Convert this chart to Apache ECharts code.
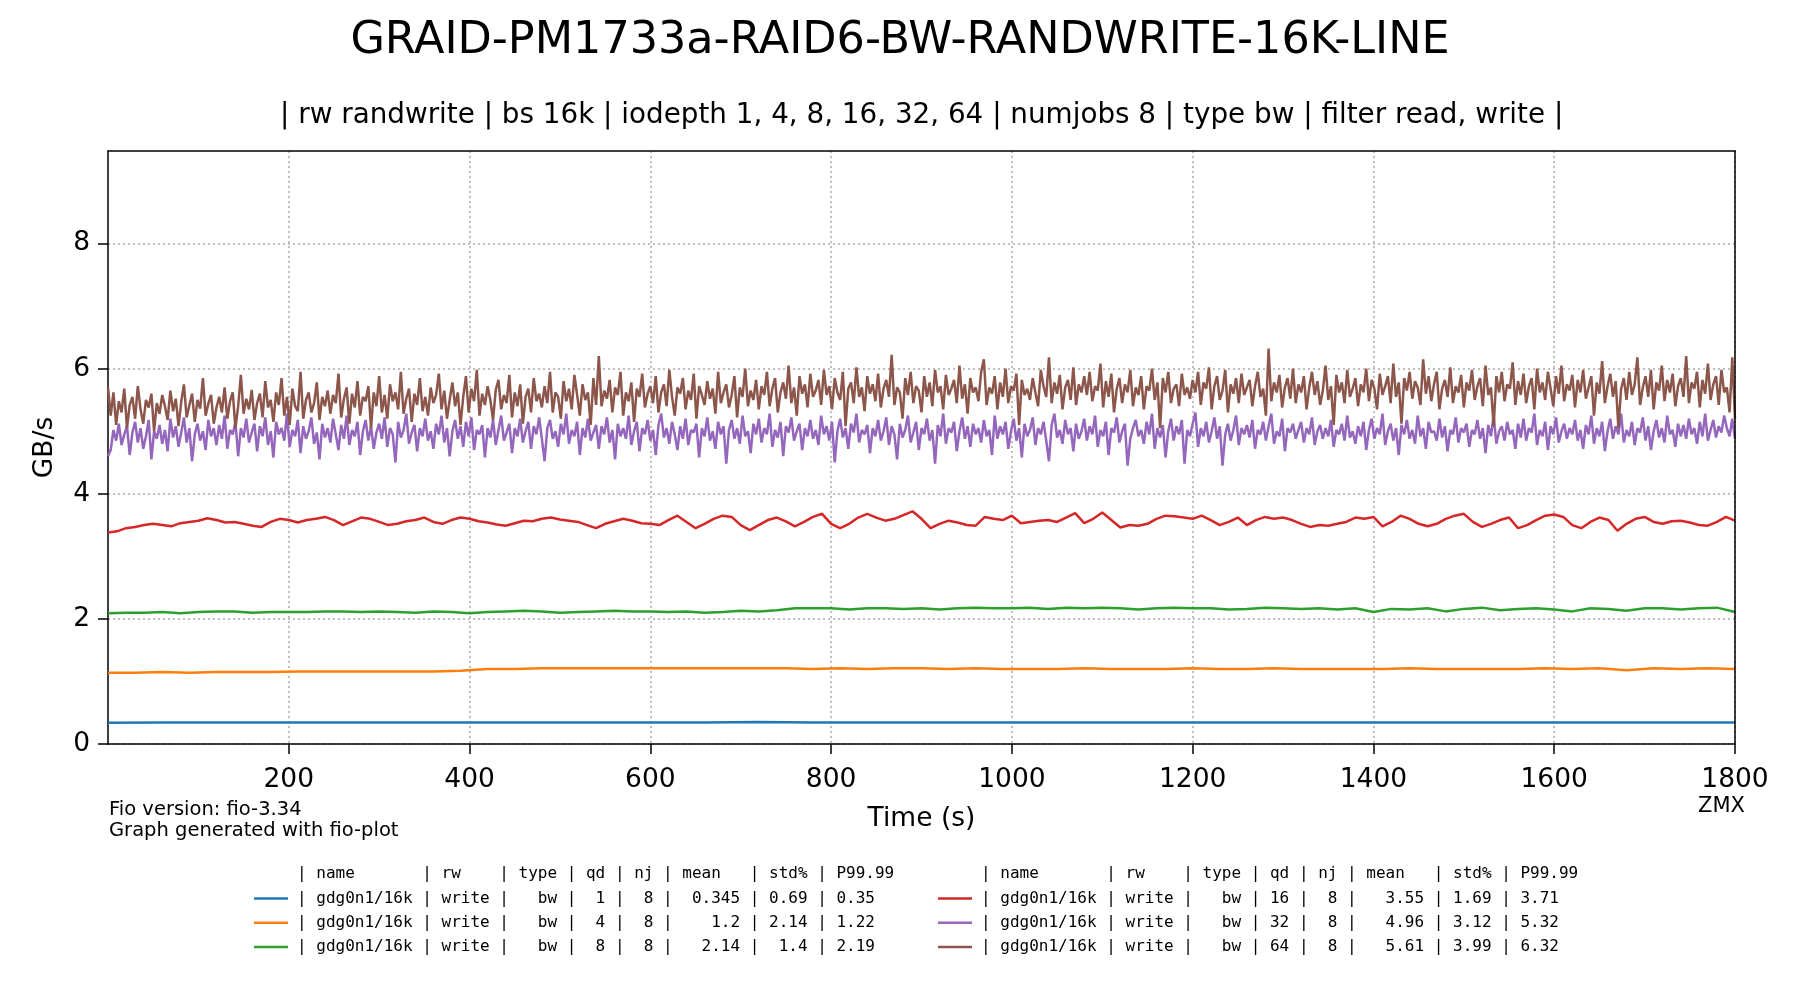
<!DOCTYPE html>
<html>
<head>
<meta charset="utf-8">
<script src="https://cdn.jsdelivr.net/npm/echarts@6/dist/echarts.min.js"></script>
<style>
  html, body { margin: 0; padding: 0; background: #fff; }
  #chart { width: 1800px; height: 1000px; }
</style>
</head>
<body>
<div id="chart"></div>
<script>
// sample spacing (seconds) of each series, first sample at t = 0
var steps = [60, 30, 20, 10, 3, 3];

var qds = [1, 4, 8, 16, 32, 64];
var means = ['0.345', '1.2', '2.14', '3.55', '4.96', '5.61'];
var stds = ['0.69', '2.14', '1.4', '1.69', '3.12', '3.99'];
var p9999 = ['0.35', '1.22', '2.19', '3.71', '5.32', '6.32'];

var xTicks = [200, 400, 600, 800, 1000, 1200, 1400, 1600, 1800];
var yTicks = [0, 2, 4, 6, 8];

var bwQd1 = [
  0.34, 0.345, 0.345, 0.345, 0.345, 0.345, 0.345, 0.345, 0.345, 0.345,
  0.345, 0.345, 0.35, 0.345, 0.345, 0.345, 0.345, 0.345, 0.345, 0.345,
  0.345, 0.345, 0.345, 0.345, 0.345, 0.345, 0.345, 0.345, 0.345, 0.345, 0.345
];

var bwQd4 = [
  1.14,
  1.14, 1.15, 1.14, 1.15, 1.15, 1.15, 1.16, 1.16, 1.16, 1.16,
  1.16, 1.16, 1.17, 1.20, 1.20, 1.21, 1.21, 1.21, 1.21, 1.21,
  1.21, 1.21, 1.21, 1.21, 1.21, 1.20, 1.21, 1.20, 1.21, 1.21,
  1.20, 1.21, 1.20, 1.20, 1.20, 1.21, 1.20, 1.20, 1.20, 1.21,
  1.20, 1.20, 1.21, 1.20, 1.20, 1.20, 1.20, 1.21, 1.20, 1.20,
  1.20, 1.20, 1.21, 1.20, 1.21, 1.18, 1.21, 1.20, 1.21, 1.20
];

var bwQd8 = [
  2.09,
  2.10, 2.10, 2.11, 2.09, 2.11, 2.12, 2.12, 2.10, 2.11, 2.11,
  2.11, 2.12, 2.12, 2.11, 2.12, 2.11, 2.10, 2.12, 2.11, 2.09,
  2.11, 2.12, 2.13, 2.12, 2.10, 2.11, 2.12, 2.13, 2.12, 2.12,
  2.11, 2.12, 2.10, 2.11, 2.13, 2.12, 2.14, 2.17, 2.17, 2.17,
  2.15, 2.17, 2.17, 2.16, 2.17, 2.15, 2.17, 2.18, 2.17, 2.17,
  2.18, 2.16, 2.18, 2.17, 2.18, 2.17, 2.15, 2.17, 2.18, 2.17,
  2.17, 2.15, 2.16, 2.18, 2.17, 2.16, 2.17, 2.15, 2.17, 2.11,
  2.16, 2.15, 2.17, 2.12, 2.16, 2.18, 2.14, 2.16, 2.17, 2.15,
  2.12, 2.17, 2.16, 2.13, 2.17, 2.17, 2.15, 2.17, 2.18, 2.11
];

var bwQd16 = [
  3.38,
  3.40, 3.45, 3.47, 3.50, 3.52, 3.50, 3.48, 3.53, 3.55, 3.57,
  3.61, 3.58, 3.54, 3.55, 3.52, 3.49, 3.47, 3.55, 3.60, 3.58,
  3.54, 3.58, 3.60, 3.63, 3.58, 3.50, 3.56, 3.62, 3.60, 3.55,
  3.50, 3.52, 3.56, 3.58, 3.62, 3.55, 3.52, 3.58, 3.62, 3.60,
  3.56, 3.54, 3.51, 3.49, 3.53, 3.57, 3.56, 3.60, 3.62, 3.59,
  3.57, 3.55, 3.50, 3.45, 3.52, 3.56, 3.60, 3.57, 3.53, 3.52,
  3.50, 3.58, 3.65, 3.55, 3.45, 3.52, 3.60, 3.65, 3.63, 3.50,
  3.42, 3.50, 3.58, 3.62, 3.56, 3.48, 3.55, 3.63, 3.68, 3.52,
  3.45, 3.52, 3.62, 3.68, 3.62, 3.57, 3.60, 3.66, 3.72, 3.60,
  3.45, 3.52, 3.57, 3.54, 3.50, 3.49, 3.63, 3.60, 3.58, 3.65,
  3.53, 3.55, 3.57, 3.58, 3.55, 3.62, 3.69, 3.53, 3.60, 3.70,
  3.58, 3.46, 3.50, 3.49, 3.52, 3.60, 3.65, 3.64, 3.62, 3.60,
  3.65, 3.58, 3.50, 3.55, 3.62, 3.50, 3.58, 3.63, 3.60, 3.62,
  3.58, 3.52, 3.47, 3.50, 3.49, 3.52, 3.55, 3.62, 3.60, 3.63,
  3.48, 3.55, 3.65, 3.60, 3.52, 3.48, 3.52, 3.60, 3.65, 3.68,
  3.55, 3.47, 3.52, 3.58, 3.62, 3.45, 3.50, 3.58, 3.65, 3.67,
  3.63, 3.50, 3.45, 3.55, 3.62, 3.58, 3.41, 3.52, 3.60, 3.63,
  3.55, 3.52, 3.56, 3.57, 3.54, 3.50, 3.49, 3.55, 3.63, 3.57
];

var bwQd32 = [
  4.60,
  4.70, 5.02, 4.85, 5.12, 4.78, 4.95, 5.08, 4.62, 4.98, 5.15, 4.82, 5.05, 4.72, 4.92, 5.18, 4.55, 5.00, 4.88, 5.10, 4.80,
  5.02, 4.68, 5.20, 4.90, 5.08, 4.75, 4.98, 5.22, 4.82, 5.05, 4.52, 4.95, 5.12, 4.85, 5.00, 4.70, 5.18, 4.92, 5.05, 4.78,
  5.10, 4.88, 5.25, 4.72, 5.02, 4.95, 5.15, 4.60, 5.05, 4.90, 5.20, 4.82, 4.98, 5.12, 4.68, 5.08, 4.92, 5.22, 4.78, 5.00,
  4.58, 5.15, 4.95, 5.05, 4.85, 5.28, 4.75, 5.02, 4.92, 5.18, 4.65, 5.08, 4.88, 5.00, 5.22, 4.80, 4.98, 4.55, 5.12, 4.90,
  5.05, 4.82, 5.20, 4.95, 4.70, 5.10, 4.88, 5.25, 4.78, 5.02, 4.92, 5.15, 4.62, 5.00, 5.18, 4.85, 5.08, 4.72, 4.98, 5.12,
  4.88, 5.22, 4.75, 5.05, 4.95, 4.50, 5.15, 4.90, 5.02, 5.28, 4.80, 4.98, 5.10, 4.68, 5.05, 4.92, 5.20, 4.85, 5.00, 4.72,
  5.12, 4.95, 5.25, 4.82, 5.05, 4.60, 5.00, 5.18, 4.88, 5.08, 4.75, 5.15, 4.92, 5.22, 4.70, 5.02, 4.95, 5.10, 4.58, 5.05,
  4.90, 5.18, 4.78, 5.02, 5.25, 4.85, 4.98, 5.12, 4.65, 5.05, 4.92, 5.20, 4.82, 5.00, 5.15, 4.72, 5.08, 4.95, 5.22, 4.88,
  4.52, 5.05, 5.18, 4.88, 5.00, 4.75, 5.12, 4.95, 5.28, 4.80, 5.02, 4.92, 5.15, 4.62, 5.05, 4.90, 5.20, 4.85, 4.98, 5.10,
  4.72, 5.08, 4.95, 5.22, 4.82, 5.02, 4.55, 5.12, 4.92, 5.05, 4.88, 5.25, 4.78, 5.00, 5.15, 4.68, 5.05, 4.95, 5.18, 4.85,
  5.02, 4.62, 5.10, 5.28, 4.90, 5.05, 4.80, 5.15, 4.95, 4.70, 5.08, 4.88, 5.20, 4.78, 5.02, 4.98, 5.12, 4.58, 5.05, 4.92,
  5.22, 4.85, 5.00, 4.72, 5.15, 4.95, 5.08, 4.48, 5.02, 5.18, 4.88, 5.05, 4.80, 5.25, 4.92, 5.00, 4.65, 5.12, 4.95, 5.20,
  4.82, 5.05, 4.95, 5.28, 4.75, 5.02, 4.90, 5.15, 4.60, 5.08, 4.98, 5.22, 4.85, 5.00, 5.12, 4.70, 5.05, 4.92, 5.18, 4.88,
  5.02, 4.78, 5.25, 4.95, 5.08, 4.85, 5.15, 4.50, 5.00, 5.20, 4.90, 5.05, 4.72, 5.12, 4.98, 5.28, 4.82, 5.02, 4.95, 5.10,
  4.65, 5.05, 4.92, 5.18, 4.85, 5.00, 5.22, 4.78, 5.08, 4.95, 4.55, 5.12, 4.90, 5.02, 5.25, 4.82, 4.98, 5.15, 4.70, 5.05,
  4.95, 5.20, 4.85, 5.02, 4.48, 5.10, 4.92, 5.28, 4.80, 5.05, 4.98, 5.15, 4.68, 5.00, 5.22, 4.88, 5.08, 4.75, 5.12, 4.95,
  5.05, 4.82, 5.18, 4.92, 5.02, 4.62, 5.25, 4.88, 5.08, 4.95, 5.15, 4.72, 5.00, 5.20, 4.85, 5.05, 4.58, 5.12, 4.92, 5.02,
  5.22, 4.78, 5.05, 4.95, 5.15, 4.85, 4.52, 5.10, 5.28, 4.90, 5.02, 4.80, 5.18, 4.95, 5.05, 4.68, 5.12, 4.88, 5.00, 5.20,
  4.85, 5.08, 4.95, 5.25, 4.75, 5.02, 4.92, 5.15, 4.62, 5.05, 4.98, 5.22, 4.82, 5.00, 5.12, 4.45, 4.88, 5.05, 5.18, 4.92,
  5.02, 4.80, 5.15, 4.95, 5.28, 4.72, 5.05, 4.90, 5.10, 4.58, 5.00, 5.20, 4.85, 5.08, 4.95, 5.18, 4.48, 5.02, 4.92, 5.12,
  5.30, 4.75, 5.05, 4.92, 5.15, 4.82, 5.00, 5.22, 4.88, 5.08, 4.45, 4.95, 5.12, 4.85, 5.02, 5.25, 4.78, 5.05, 4.95, 5.10,
  4.90, 5.18, 4.72, 5.02, 4.95, 5.15, 4.85, 5.08, 5.28, 4.80, 5.00, 4.92, 5.20, 4.68, 5.05, 4.98, 5.12, 4.88, 5.02, 5.15,
  4.82, 5.05, 4.95, 5.22, 4.78, 5.00, 5.10, 4.88, 5.05, 4.92, 5.18, 4.75, 5.02, 4.95, 5.12, 4.85, 5.25, 4.90, 5.00, 4.80,
  5.08, 4.92, 5.15, 4.70, 5.02, 5.20, 4.88, 5.05, 4.95, 5.28, 4.78, 5.00, 5.12, 4.85, 5.05, 4.62, 5.10, 4.95, 5.18, 4.88,
  5.02, 4.80, 5.25, 4.92, 5.05, 4.72, 5.15, 4.98, 5.00, 4.85, 5.20, 4.90, 5.08, 4.68, 5.02, 4.95, 5.22, 4.82, 5.05, 4.98,
  5.12, 4.75, 5.02, 4.95, 5.18, 4.88, 5.05, 4.65, 5.10, 4.92, 5.25, 4.80, 5.00, 5.08, 4.85, 5.15, 4.95, 5.02, 4.72, 5.12,
  4.90, 5.20, 4.85, 5.05, 4.98, 5.28, 4.78, 5.02, 4.92, 5.15, 4.70, 5.08, 4.95, 5.22, 4.82, 5.00, 5.12, 4.88, 5.05, 4.95,
  5.18, 4.85, 5.02, 4.72, 5.10, 4.95, 5.25, 4.80, 5.05, 4.92, 5.15, 4.68, 5.00, 5.20, 4.88, 5.08, 4.95, 5.28, 4.82, 5.02,
  4.92, 5.15, 4.78, 5.05, 4.98, 5.22, 4.85, 5.08, 4.70, 5.00, 5.18, 4.90, 5.05, 4.82, 5.25, 4.95, 5.02, 4.75, 5.12, 4.92,
  5.10, 4.88, 5.20, 4.95, 5.05, 4.80, 5.15, 4.92, 5.28, 4.85, 5.02, 5.18, 4.90, 5.08, 4.98, 5.25, 5.05, 4.92, 5.20, 4.88
];

var bwQd64 = [
  5.70,
  5.25, 5.62, 5.10, 5.48, 5.30, 5.68, 5.05, 5.42, 5.55, 5.20, 5.72, 5.35, 5.12, 5.50, 5.38, 5.60, 5.00, 5.45, 5.28, 5.58,
  5.40, 5.18, 5.65, 5.32, 5.52, 5.08, 5.47, 5.75, 5.22, 5.41, 5.60, 5.15, 5.50, 5.36, 5.85, 5.25, 5.44, 5.58, 5.12, 5.38,
  5.55, 5.30, 5.70, 5.20, 5.48, 5.62, 5.05, 5.40, 5.90, 5.28, 5.52, 5.35, 5.66, 5.18, 5.45, 5.60, 5.22, 5.80, 5.38, 5.50,
  5.15, 5.62, 5.42, 5.85, 5.25, 5.55, 5.10, 5.68, 5.40, 5.32, 5.95, 5.20, 5.50, 5.62, 5.30, 5.45, 5.78, 5.18, 5.55, 5.40,
  5.65, 5.28, 5.58, 5.45, 5.92, 5.22, 5.52, 5.70, 5.12, 5.60, 5.38, 5.80, 5.25, 5.55, 5.48, 5.72, 5.05, 5.62, 5.40, 5.88,
  5.30, 5.58, 5.20, 5.75, 5.48, 5.62, 5.35, 5.95, 5.28, 5.52, 5.68, 5.15, 5.60, 5.42, 5.85, 5.32, 5.55, 5.25, 5.70, 5.45,
  5.58, 5.92, 5.35, 5.65, 5.20, 5.50, 5.78, 5.40, 5.62, 5.10, 5.55, 5.88, 5.30, 5.68, 5.48, 5.98, 5.25, 5.60, 5.42, 5.72,
  5.50, 5.18, 5.66, 5.82, 5.35, 5.58, 5.45, 5.90, 5.22, 5.62, 5.40, 5.75, 5.12, 5.55, 5.68, 5.30, 5.85, 5.48, 5.60, 5.38,
  5.72, 5.45, 5.95, 5.30, 5.62, 5.55, 5.20, 5.80, 5.48, 5.68, 5.35, 5.90, 5.58, 5.25, 5.75, 5.50, 5.62, 5.10, 5.85, 5.42,
  6.20, 5.40, 5.65, 5.52, 5.82, 5.30, 5.70, 5.58, 5.95, 5.25, 5.62, 5.48, 5.78, 5.15, 5.68, 5.55, 5.92, 5.38, 5.60, 5.72,
  5.45, 5.88, 5.30, 5.62, 5.75, 5.40, 5.98, 5.55, 5.25, 5.70, 5.60, 5.85, 5.35, 5.65, 5.50, 5.92, 5.20, 5.72, 5.58, 5.42,
  5.80, 5.52, 5.68, 5.28, 5.95, 5.45, 5.62, 5.75, 5.38, 5.58, 5.88, 5.22, 5.70, 5.55, 6.00, 5.40, 5.65, 5.50, 5.82, 5.35,
  5.72, 5.58, 5.95, 5.40, 5.68, 5.85, 5.30, 5.62, 5.78, 5.52, 6.05, 5.45, 5.70, 5.25, 5.88, 5.60, 5.75, 5.38, 5.92, 5.55,
  5.65, 5.82, 5.42, 5.98, 5.58, 5.72, 5.35, 5.85, 5.62, 5.50, 5.95, 5.08, 5.68, 5.78, 5.45, 6.02, 5.55, 5.70, 5.32, 5.88,
  5.60, 5.75, 5.48, 5.92, 5.38, 5.68, 5.82, 5.55, 6.22, 5.42, 5.70, 5.62, 5.20, 5.85, 5.58, 5.95, 5.45, 5.72, 5.65, 5.30,
  5.88, 5.55, 5.78, 5.40, 5.98, 5.62, 5.72, 5.35, 5.90, 5.58, 5.68, 5.82, 5.45, 6.05, 5.52, 5.75, 5.28, 5.85, 5.62, 5.70,
  5.48, 5.95, 6.15, 5.42, 5.70, 5.60, 5.88, 5.35, 5.78, 5.55, 6.00, 5.45, 5.72, 5.65, 5.92, 5.10, 5.82, 5.58, 5.68, 5.50,
  5.85, 5.62, 5.40, 5.98, 5.72, 5.55, 6.18, 5.45, 5.78, 5.60, 5.90, 5.35, 5.70, 5.82, 5.50, 6.02, 5.42, 5.75, 5.62, 5.88,
  5.58, 5.95, 5.48, 5.72, 5.65, 6.08, 5.38, 5.80, 5.55, 5.92, 5.30, 5.68, 5.85, 5.45, 5.75, 5.62, 5.98, 5.40, 5.70, 5.58,
  5.88, 5.35, 5.72, 5.65, 6.00, 5.50, 5.78, 5.05, 5.85, 5.62, 5.95, 5.45, 5.68, 5.75, 5.40, 5.92, 5.58, 5.70, 5.52, 5.82,
  5.62, 5.95, 5.42, 5.78, 5.68, 6.02, 5.35, 5.72, 5.88, 5.50, 5.65, 5.98, 5.30, 5.75, 5.60, 5.85, 5.45, 5.92, 5.58, 5.70,
  5.82, 5.40, 5.72, 5.95, 5.55, 5.68, 5.25, 6.32, 5.48, 5.78, 5.62, 5.90, 5.38, 5.70, 5.85, 5.52, 6.00, 5.45, 5.75, 5.62,
  5.88, 5.35, 5.70, 5.95, 5.58, 5.80, 5.42, 5.65, 6.05, 5.50, 5.72, 5.10, 5.90, 5.62, 5.78, 5.45, 5.98, 5.55, 5.68, 5.85,
  5.40, 5.75, 5.62, 6.00, 5.48, 5.82, 5.68, 5.35, 5.92, 5.58, 5.72, 5.88, 5.45, 6.08, 5.55, 5.78, 5.12, 5.85, 5.65, 5.95,
  5.52, 5.80, 5.70, 5.42, 6.15, 5.60, 5.88, 5.48, 5.75, 5.95, 5.35, 5.68, 5.82, 5.55, 6.02, 5.45, 5.72, 5.62, 5.90, 5.38,
  5.78, 5.65, 5.98, 5.50, 5.72, 5.85, 5.40, 6.05, 5.58, 5.70, 5.08, 5.88, 5.62, 5.95, 5.48, 5.75, 5.68, 6.10, 5.42, 5.80,
  5.58, 5.92, 5.45, 5.72, 5.85, 5.35, 6.00, 5.62, 5.78, 5.50, 5.95, 5.68, 5.40, 5.88, 5.60, 6.05, 5.48, 5.75, 5.65, 5.90,
  5.38, 5.82, 5.62, 5.98, 5.52, 5.70, 5.88, 5.25, 5.78, 5.60, 6.12, 5.45, 5.72, 5.92, 5.55, 5.80, 5.05, 5.68, 5.85, 5.50,
  5.95, 5.58, 5.75, 6.18, 5.42, 5.70, 5.88, 5.55, 5.98, 5.35, 5.78, 5.65, 6.05, 5.48, 5.82, 5.62, 5.92, 5.40, 5.72, 5.85,
  5.55, 6.20, 5.45, 5.78, 5.68, 5.95, 5.38, 5.82, 5.60, 6.08, 5.50, 5.75, 5.88, 5.42, 5.98, 5.62, 5.70, 5.30, 6.18, 5.20
];

var seriesValues = [bwQd1, bwQd4, bwQd8, bwQd16, bwQd32, bwQd64];
var colors = ['#1f77b4', '#ff7f0e', '#2ca02c', '#d62728', '#9467bd', '#8c564b'];

function pad(s, n) {
  s = String(s);
  while (s.length < n) s = ' ' + s;
  return s;
}

var rowText = {};
var names = [];
qds.forEach(function (qd, i) {
  var name = 'qd' + qd;
  names.push(name);
  rowText[name] = '| gdg0n1/16k | write |   bw | ' + pad(qd, 2) + ' |  8 | ' +
    pad(means[i], 6) + ' | ' + pad(stds[i], 4) + ' | ' + p9999[i];
});
var header = '| name       | rw    | type | qd | nj | mean   | std% | P99.99';

var series = seriesValues.map(function (vals, i) {
  return {
    name: names[i],
    type: 'line',
    showSymbol: false,
    symbol: 'none',
    animation: false,
    lineStyle: { color: colors[i], width: 2.5 },
    itemStyle: { color: colors[i] },
    data: vals.map(function (v, k) { return [k * steps[i], v]; })
  };
});

var monoFont = '16px "DejaVu Sans Mono"';
var legendBase = {
  orient: 'vertical',
  icon: 'rect',
  itemWidth: 34,
  itemHeight: 2.5,
  itemGap: 7.3,
  padding: 0,
  selectedMode: false,
  formatter: function (n) { return rowText[n]; },
  textStyle: {
    fontFamily: 'DejaVu Sans Mono',
    fontSize: 16,
    lineHeight: 17,
    color: '#000',
    padding: [0, 0, 0, 4]
  }
};

// top and right edges of the plot frame
var frameAxis = {
  show: true,
  z: 5,
  axisLine: { show: true, onZero: false, lineStyle: { color: '#000', width: 1.5 } },
  axisTick: { show: false },
  axisLabel: { show: false },
  splitLine: { show: false }
};

var chart = echarts.init(document.getElementById('chart'), null, { renderer: 'canvas' });
chart.setOption({
  backgroundColor: '#fff',
  animation: false,
  textStyle: { fontFamily: 'DejaVu Sans' },
  title: [{
    text: 'GRAID-PM1733a-RAID6-BW-RANDWRITE-16K-LINE',
    left: 'center',
    top: 14,
    textStyle: { fontFamily: 'DejaVu Sans', fontSize: 44.5, fontWeight: 'normal', color: '#000' }
  }, {
    text: '| rw randwrite | bs 16k | iodepth 1, 4, 8, 16, 32, 64 | numjobs 8 | type bw | filter read, write |',
    left: 275,
    top: 97,
    textStyle: { fontFamily: 'DejaVu Sans', fontSize: 27.8, fontWeight: 'normal', color: '#000' }
  }],
  grid: { left: 108, right: 65, top: 151, bottom: 256 },
  xAxis: [{
    type: 'value',
    min: 0, max: 1800, interval: 200,
    name: 'Time (s)',
    nameLocation: 'middle',
    nameGap: 62,
    nameTextStyle: { fontSize: 26.5, color: '#000' },
    axisLine: { show: true, onZero: false, lineStyle: { color: '#000', width: 1.5 } },
    axisTick: { show: true, length: 10, customValues: xTicks, lineStyle: { color: '#000', width: 1.5 } },
    axisLabel: {
      margin: 23, customValues: xTicks, fontSize: 26.5, color: '#000',
      formatter: function (v) { return String(v); }
    },
    splitLine: { show: true, lineStyle: { color: '#aaaaaa', width: 1.5, type: [2, 3] } }
  }, Object.assign({ type: 'value', position: 'top', min: 0, max: 1800 }, frameAxis)],
  yAxis: [{
    type: 'value',
    min: 0, max: 9.48, interval: 2,
    name: 'GB/s',
    nameLocation: 'middle',
    nameGap: 49,
    nameTextStyle: { fontSize: 26.5, color: '#000' },
    axisLine: { show: true, onZero: false, lineStyle: { color: '#000', width: 1.5 } },
    axisTick: { show: true, length: 10, customValues: yTicks, lineStyle: { color: '#000', width: 1.5 } },
    axisLabel: { margin: 18, customValues: yTicks, fontSize: 26.5, color: '#000' },
    splitLine: { show: true, lineStyle: { color: '#aaaaaa', width: 1.5, type: [2, 3] } }
  }, Object.assign({ type: 'value', position: 'right', min: 0, max: 9.48 }, frameAxis)],
  legend: [
    Object.assign({}, legendBase, { left: 254, top: 890, data: names.slice(0, 3) }),
    Object.assign({}, legendBase, { left: 938, top: 890, data: names.slice(3) })
  ],
  graphic: [
    { type: 'text', left: 297, top: 866, style: { text: header, font: monoFont, fill: '#000' } },
    { type: 'text', left: 981, top: 866, style: { text: header, font: monoFont, fill: '#000' } },
    { type: 'text', left: 109, top: 800, style: { text: 'Fio version: fio-3.34', font: '19.5px "DejaVu Sans"', fill: '#000' } },
    { type: 'text', left: 109, top: 821, style: { text: 'Graph generated with fio-plot', font: '19.5px "DejaVu Sans"', fill: '#000' } },
    { type: 'text', left: 1698, top: 796.5, style: { text: 'ZMX', font: '21px "DejaVu Sans"', fill: '#000' } }
  ],
  series: series
});
</script>
</body>
</html>
